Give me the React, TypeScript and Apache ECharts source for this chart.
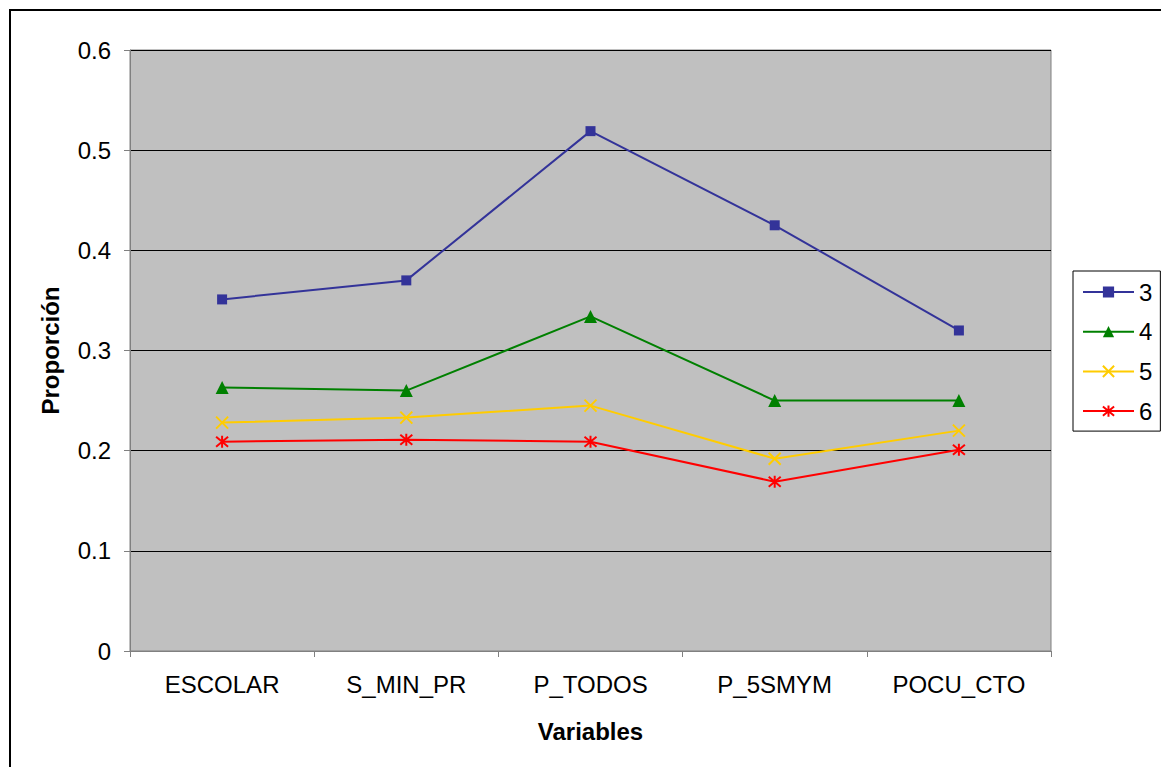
import React, { useEffect, useRef } from "react";
import * as echarts from "echarts";

const categories = ["ESCOLAR", "S_MIN_PR", "P_TODOS", "P_5SMYM", "POCU_CTO"];
const seriesNames = ["3", "4", "5", "6"];
const s3 = [0.351, 0.37, 0.519, 0.425, 0.32];
const s4 = [0.263, 0.26, 0.334, 0.25, 0.25];
const s5 = [0.228, 0.233, 0.245, 0.192, 0.22];
const s6 = [0.209, 0.211, 0.209, 0.169, 0.201];
const yTicks = [0, 0.1, 0.2, 0.3, 0.4, 0.5, 0.6];

const colors = ["#333399", "#008000", "#FFCC00", "#FF0000"];
const FONT = "'Liberation Sans', Arial, sans-serif";
const FS = 24;

export default function App() {
  const ref = useRef<HTMLDivElement>(null);
  useEffect(() => {
    const chart = echarts.init(ref.current!, null, { renderer: "svg" });
    const xSym = "path://M0,0 L10,10 M10,0 L0,10";
    const astSym = "path://M0,0 L10,10 M10,0 L0,10 M5,-1 L5,11";
    const data = [s3, s4, s5, s6];
    const symbols = ["rect", "triangle", xSym, astSym];
    const sizes = [10, 13, 12, 12];
    chart.setOption({
      animation: false,
      backgroundColor: "#ffffff",
      textStyle: { fontFamily: FONT },
      graphic: [
        {
          type: "rect",
          shape: { x: 10, y: 10, width: 1200, height: 800 },
          style: { fill: "none", stroke: "#000", lineWidth: 2 },
          silent: true,
        },
      ],
      grid: {
        left: 130,
        top: 50,
        width: 921,
        height: 601,
        show: true,
        backgroundColor: "#C0C0C0",
        borderColor: "#808080",
        borderWidth: 1,
        containLabel: false,
      },
      legend: {
        orient: "vertical",
        left: 1073,
        top: 271,
        data: seriesNames,
        itemWidth: 51,
        itemHeight: 14,
        itemGap: 15.7,
        padding: [9, 8, 8, 9],
        borderColor: "#000",
        borderWidth: 1,
        backgroundColor: "#fff",
        textStyle: { fontSize: FS, color: "#000", fontFamily: FONT },
      },
      xAxis: {
        type: "category",
        data: categories,
        boundaryGap: true,
        name: "Variables",
        nameLocation: "middle",
        nameGap: 68,
        nameTextStyle: { fontSize: FS, fontWeight: "bold", color: "#000", fontFamily: FONT },
        axisLine: { lineStyle: { color: "#808080", width: 1 } },
        axisTick: { show: true, length: 6, lineStyle: { color: "#808080" }, alignWithLabel: false },
        axisLabel: { fontSize: FS, color: "#000", margin: 21, fontFamily: FONT },
        splitLine: { show: false },
      },
      yAxis: {
        type: "value",
        min: 0,
        max: 0.6,
        interval: 0.1,
        name: "Proporción",
        nameLocation: "middle",
        nameGap: 68,
        nameRotate: 90,
        nameTextStyle: { fontSize: FS, fontWeight: "bold", color: "#000", fontFamily: FONT },
        axisLine: { show: true, lineStyle: { color: "#808080", width: 1 } },
        axisTick: { show: true, length: 6, lineStyle: { color: "#808080" } },
        axisLabel: {
          fontSize: FS,
          color: "#000",
          margin: 19,
          fontFamily: FONT,
          formatter: (v: number) => {
            const t = yTicks.find((y) => Math.abs(y - v) < 1e-9);
            return t === 0 ? "0" : String(Number(v.toFixed(1)));
          },
        },
        splitLine: { show: true, lineStyle: { color: "#000", width: 1 } },
      },
      series: seriesNames.map((n, i) => ({
        name: n,
        type: "line",
        data: data[i],
        symbol: symbols[i],
        symbolSize: sizes[i],
        showAllSymbol: true,
        lineStyle: { color: colors[i], width: 2 },
        itemStyle:
          i >= 2
            ? { color: "none", borderColor: colors[i], borderWidth: 2 }
            : { color: colors[i], borderColor: colors[i], borderWidth: 0 },
        emphasis: { disabled: true },
        z: 10 - i,
      })),
    });
    return () => chart.dispose();
  }, []);
  return (
    <div
      ref={ref}
      style={{ position: "fixed", left: 0, top: 0, width: 1161, height: 767 }}
    />
  );
}
